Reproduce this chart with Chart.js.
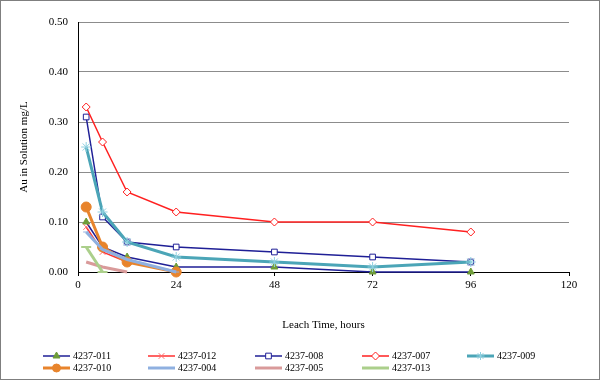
<!DOCTYPE html>
<html>
<head>
<meta charset="utf-8">
<script src="https://cdn.jsdelivr.net/npm/chart.js@4/dist/chart.umd.min.js"></script>
<style>
html,body{margin:0;padding:0;background:#fff;}
canvas{display:block;}
</style>
</head>
<body>
<canvas id="c" width="600" height="380"></canvas>
<script>
// Leach time points (hours)
const times = [2, 6, 12, 24, 48, 72, 96];
const xTicks = [0, 24, 48, 72, 96, 120];
const yTicks = [0.00, 0.10, 0.20, 0.30, 0.40, 0.50];

const seriesNames = ["4237-011","4237-012","4237-008","4237-007","4237-009","4237-010","4237-004","4237-005","4237-013"];
const s011 = [0.10, 0.05, 0.03, 0.01, 0.01, 0.00, 0.00];
const s012 = [0.09, 0.04, 0.02, 0.00];
const s008 = [0.31, 0.11, 0.06, 0.05, 0.04, 0.03, 0.02];
const s007 = [0.33, 0.26, 0.16, 0.12, 0.10, 0.10, 0.08];
const s009 = [0.25, 0.12, 0.06, 0.03, 0.02, 0.01, 0.02];
const s010 = [0.13, 0.05, 0.02, 0.00];
const s004 = [0.08, 0.045, 0.025, 0.00];
const s005 = [0.02, 0.01, 0.00];
const s013 = [0.05, 0.00];
const seriesValues = [s011, s012, s008, s007, s009, s010, s004, s005, s013];

const styles = [
  {line:'#1f1f96', lw:1.5, ps:'triangle', pr:4, pbg:'#6e9c38', pbc:'#6e9c38', pbw:1},
  {line:'#ff3030', lw:1.5, ps:'crossRot', pr:4, pbg:'#ff6a6a', pbc:'#ff6a6a', pbw:1},
  {line:'#1f1f96', lw:1.5, ps:'rect', pr:4, pbg:'#ffffff', pbc:'#1f1f96', pbw:1},
  {line:'#ff2020', lw:1.5, ps:'rectRot', pr:4, pbg:'#ffffff', pbc:'#ff2020', pbw:1},
  {line:'#4ba5b7', lw:3, ps:'star', pr:5, pbg:'#8fd0e0', pbc:'#8fd0e0', pbw:1},
  {line:'#e8842c', lw:3, ps:'circle', pr:5, pbg:'#e8842c', pbc:'#e8842c', pbw:1},
  {line:'#8fb0e0', lw:3, ps:'line', pr:3, pbg:'#8fb0e0', pbc:'#8fb0e0', pbw:1},
  {line:'#d99a9a', lw:3, ps:false, pr:0, pbg:'#d99a9a', pbc:'#d99a9a', pbw:1},
  {line:'#abcf8b', lw:3, ps:'line', pr:5, pbg:'#abcf8b', pbc:'#abcf8b', pbw:2}
];

const datasets = seriesNames.map((name, i) => {
  const st = styles[i];
  return {
    label: name,
    data: seriesValues[i].map((v, j) => ({x: times[j], y: v})),
    showLine: true,
    borderColor: st.line,
    borderWidth: st.lw,
    backgroundColor: st.pbg,
    pointStyle: st.ps,
    pointRadius: st.pr,
    pointHoverRadius: st.pr,
    pointBackgroundColor: st.pbg,
    pointBorderColor: st.pbc,
    pointBorderWidth: st.pbw,
    tension: 0,
    clip: false,
    order: -i
  };
});

const FONT = "'Liberation Serif', 'Times New Roman', serif";

const frameAndLegend = {
  id: 'frameAndLegend',
  beforeDraw(chart) {
    const ctx = chart.ctx;
    ctx.save();
    ctx.fillStyle = '#ffffff';
    ctx.fillRect(0, 0, chart.width, chart.height);
    ctx.restore();
  },
  afterDraw(chart) {
    const ctx = chart.ctx;
    ctx.save();
    // outer frame
    ctx.strokeStyle = '#7f7f7f';
    ctx.lineWidth = 1;
    ctx.strokeRect(0.5, 0.5, chart.width - 1, chart.height - 1);
    // legend
    const colX = [43, 148, 255, 362, 467];
    const rowY = [356, 368];
    ctx.font = '10px ' + FONT;
    ctx.textBaseline = 'middle';
    ctx.textAlign = 'left';
    seriesNames.forEach((name, i) => {
      const st = styles[i];
      const x0 = colX[i % 5];
      const y = rowY[Math.floor(i / 5)];
      ctx.strokeStyle = st.line;
      ctx.lineWidth = st.lw;
      ctx.beginPath();
      ctx.moveTo(x0, y);
      ctx.lineTo(x0 + 27, y);
      ctx.stroke();
      if (st.ps && Chart.helpers && Chart.helpers.drawPoint) {
        ctx.fillStyle = st.pbg;
        ctx.strokeStyle = st.pbc;
        ctx.lineWidth = st.pbw;
        Chart.helpers.drawPoint(ctx, {pointStyle: st.ps, radius: Math.min(st.pr, 4), borderWidth: st.pbw, rotation: 0}, x0 + 13.5, y);
      }
      ctx.fillStyle = '#000';
      ctx.fillText(name, x0 + 30, y + 0.5);
    });
    ctx.restore();
  }
};

new Chart(document.getElementById('c'), {
  type: 'scatter',
  data: { datasets },
  plugins: [frameAndLegend],
  options: {
    responsive: false,
    animation: false,
    devicePixelRatio: 1,
    layout: { padding: { left: 14, top: 22, right: 31, bottom: 44 } },
    plugins: { legend: { display: false }, tooltip: { enabled: false } },
    scales: {
      x: {
        type: 'linear',
        min: xTicks[0],
        max: xTicks[xTicks.length - 1],
        afterBuildTicks: (scale) => { scale.ticks = xTicks.map(v => ({value: v})); },
        afterFit: (scale) => { scale.height = 64; },
        grid: { drawOnChartArea: false, drawTicks: true, tickLength: 4, color: '#000' },
        border: { display: true, color: '#000', width: 1 },
        ticks: { color: '#000', font: { family: FONT, size: 11 }, padding: 3, maxRotation: 0 },
        title: { display: true, text: 'Leach Time, hours', color: '#000', font: { family: FONT, size: 11 } }
      },
      y: {
        min: yTicks[0],
        max: yTicks[yTicks.length - 1],
        afterBuildTicks: (scale) => { scale.ticks = yTicks.map(v => ({value: v})); },
        afterFit: (scale) => { scale.width = 64; },
        grid: {
          drawTicks: false,
          color: (c) => (c.tick && c.tick.value === 0) ? '#000' : '#8c8c8c'
        },
        border: { display: true, color: '#000', width: 1 },
        ticks: {
          color: '#000', font: { family: FONT, size: 11 }, padding: 10,
          callback: (v) => Number(v).toFixed(2)
        },
        title: { display: true, text: 'Au in Solution mg/L', color: '#000', font: { family: FONT, size: 11 } }
      }
    }
  }
});
</script>
</body>
</html>
